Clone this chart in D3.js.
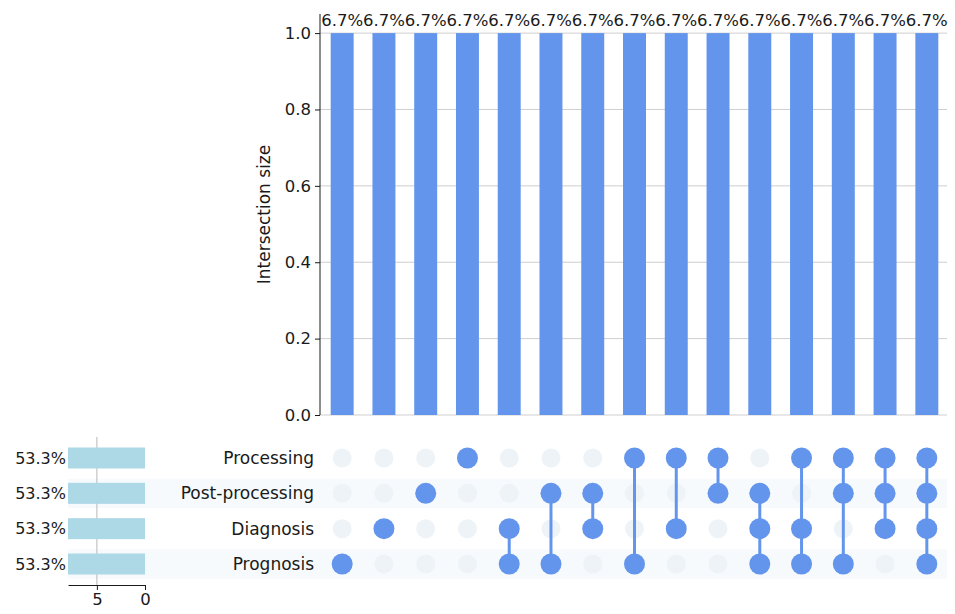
<!DOCTYPE html>
<html>
<head>
<meta charset="utf-8">
<script src="https://cdn.jsdelivr.net/npm/d3@7"></script>
<style>
  body { margin: 0; background: #fff; }
  svg { display: block; font-family: "DejaVu Sans", sans-serif; }
</style>
</head>
<body>
<svg id="chart" width="955" height="614"></svg>
<script>
// sets, top to bottom in the matrix
const sets = ["Processing", "Post-processing", "Diagnosis", "Prognosis"];
const setTotals = [8, 8, 8, 8];

// one entry per column: which sets take part
const intersections = [
    ["Prognosis"],
    ["Diagnosis"],
    ["Post-processing"],
    ["Processing"],
    ["Diagnosis", "Prognosis"],
    ["Post-processing", "Prognosis"],
    ["Post-processing", "Diagnosis"],
    ["Processing", "Prognosis"],
    ["Processing", "Diagnosis"],
    ["Processing", "Post-processing"],
    ["Post-processing", "Diagnosis", "Prognosis"],
    ["Processing", "Diagnosis", "Prognosis"],
    ["Processing", "Post-processing", "Prognosis"],
    ["Processing", "Post-processing", "Diagnosis"],
    ["Processing", "Post-processing", "Diagnosis", "Prognosis"]
];
const intersectionSizes = [1, 1, 1, 1, 1, 1, 1, 1, 1, 1, 1, 1, 1, 1, 1];
const yTicks = [0.0, 0.2, 0.4, 0.6, 0.8, 1.0];
const totalTicks = [5, 0];

const blue = "#6495ed";
const ink = "#1a1a1a";
const total = d3.sum(intersectionSizes);
const svg = d3.select("#chart");

// --- scales
const x = d3.scaleBand().domain(d3.range(intersections.length)).range([321.5, 947.5]).paddingInner(0.45).paddingOuter(0.22);
const xc = i => x(i) + x.bandwidth() / 2;
const y = d3.scaleLinear().domain([0, 1.05]).range([415, 14]);
const row = d3.scalePoint().domain(sets).range([458, 564]);
const xt = d3.scaleLinear().domain([8, 0]).range([68, 145]);

// --- intersection bar chart
const grid = svg.append("g");
grid.selectAll("line").data(yTicks).join("line")
    .attr("x1", 320).attr("x2", 947)
    .attr("y1", d => y(d)).attr("y2", d => y(d))
    .attr("stroke", "#cfcfcf").attr("stroke-width", 1);

svg.append("g").selectAll("rect").data(intersectionSizes).join("rect")
    .attr("x", (d, i) => x(i)).attr("width", x.bandwidth())
    .attr("y", d => y(d)).attr("height", d => y(0) - y(d))
    .attr("fill", blue);

const yAxis = svg.append("g").attr("transform", "translate(320,0)")
    .call(d3.axisLeft(y).tickValues(yTicks).tickFormat(d3.format(".1f")).tickSize(5).tickPadding(4));
yAxis.select(".domain").attr("stroke", ink).attr("d", `M0,${y(1.05)}V${y(0)}`);
yAxis.selectAll(".tick line").attr("stroke", ink);
yAxis.selectAll("text").attr("font-size", 16.5).attr("fill", ink).attr("font-family", "DejaVu Sans");

svg.append("text")
    .attr("transform", `translate(270,${y(0.525)}) rotate(-90)`)
    .attr("text-anchor", "middle")
    .attr("font-size", 17).attr("fill", ink)
    .text("Intersection size");

svg.append("g").selectAll("text").data(intersectionSizes).join("text")
    .attr("x", (d, i) => xc(i)).attr("y", d => y(d) - 7)
    .attr("text-anchor", "middle").attr("font-size", 16.5).attr("fill", ink)
    .text(d => d3.format(".1%")(d / total));

// --- matrix
const stripes = svg.append("g");
stripes.selectAll("rect").data(sets.filter((s, i) => i % 2 === 1)).join("rect")
    .attr("x", 68).attr("width", 947 - 68)
    .attr("y", d => row(d) - 14.5).attr("height", 29)
    .attr("fill", "#f6fafc");

const cols = svg.append("g").selectAll("g").data(intersections).join("g");
cols.each(function (members, i) {
    const g = d3.select(this);
    g.selectAll("circle.bg").data(sets.filter(s => !members.includes(s))).join("circle")
        .attr("class", "bg")
        .attr("cx", xc(i)).attr("cy", d => row(d)).attr("r", 9.5)
        .attr("fill", "#edf3f7");
    if (members.length > 1) {
        const ys = members.map(m => row(m));
        g.append("line")
            .attr("x1", xc(i)).attr("x2", xc(i))
            .attr("y1", d3.min(ys)).attr("y2", d3.max(ys))
            .attr("stroke", blue).attr("stroke-width", 3);
    }
    g.selectAll("circle.on").data(members).join("circle")
        .attr("class", "on")
        .attr("cx", xc(i)).attr("cy", d => row(d)).attr("r", 10.5)
        .attr("fill", blue);
});

svg.append("g").selectAll("text").data(sets).join("text")
    .attr("x", 314).attr("y", d => row(d)).attr("dy", "0.35em")
    .attr("text-anchor", "end").attr("font-size", 17).attr("fill", ink)
    .text(d => d);

// --- set totals
svg.append("line")
    .attr("x1", xt(5)).attr("x2", xt(5)).attr("y1", 437).attr("y2", 585)
    .attr("stroke", "#b8b8b8").attr("stroke-width", 1);

svg.append("g").selectAll("rect").data(setTotals).join("rect")
    .attr("x", d => xt(d)).attr("width", d => xt(0) - xt(d))
    .attr("y", (d, i) => row(sets[i]) - 10.5).attr("height", 21)
    .attr("fill", "#add8e6");

svg.append("g").selectAll("text").data(setTotals).join("text")
    .attr("x", 66).attr("y", (d, i) => row(sets[i])).attr("dy", "0.35em")
    .attr("text-anchor", "end").attr("font-size", 16).attr("fill", ink)
    .text(d => d3.format(".1%")(d / total));

const tAxis = svg.append("g").attr("transform", "translate(0,585)")
    .call(d3.axisBottom(xt).tickValues(totalTicks).tickSize(5).tickSizeOuter(0).tickPadding(3));
tAxis.select(".domain").attr("stroke", ink);
tAxis.selectAll(".tick line").attr("stroke", ink);
tAxis.selectAll("text").attr("font-size", 16.5).attr("fill", ink).attr("font-family", "DejaVu Sans");
</script>
</body>
</html>
